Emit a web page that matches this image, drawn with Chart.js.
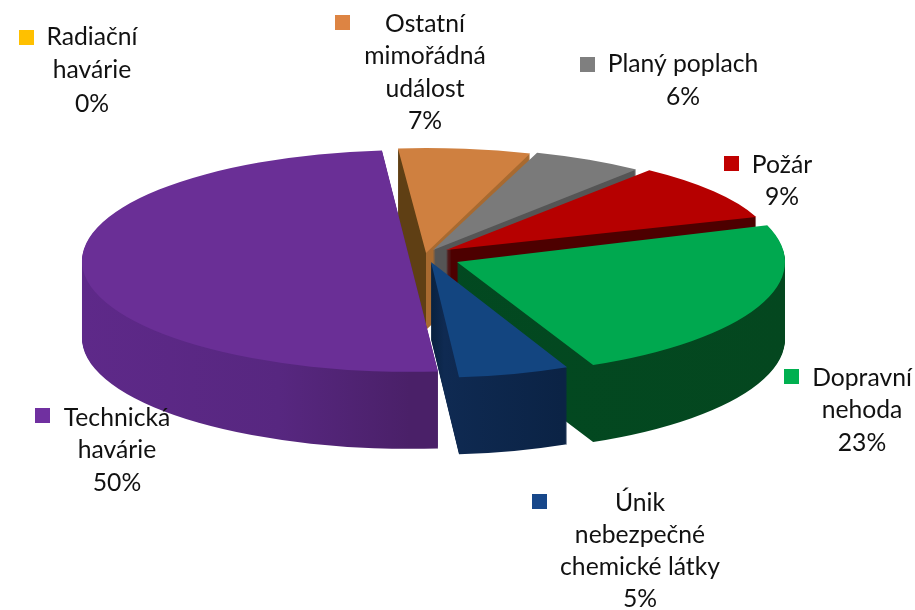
<!DOCTYPE html>
<html><head><meta charset="utf-8">
<style>html,body{margin:0;padding:0;background:#fff}canvas{display:block}</style>
<script src="https://cdn.jsdelivr.net/npm/chart.js@4/dist/chart.umd.js"></script>
</head><body><canvas id="c" width="915" height="610"></canvas>
<script>
const categories = [
  ['Radiační','havárie'],
  ['Ostatní','mimořádná','událost'],
  ['Planý poplach'],
  ['Požár'],
  ['Dopravní','nehoda'],
  ['Únik','nebezpečné','chemické látky'],
  ['Technická','havárie']
];
const values = [0, 6.5, 5.5, 9.1, 23.45, 5.45, 50];
const topColors = ['#ffc000','#cf8040','#7a7a7a','#b60000','#00a84f','#134580','#6a2f96'];
const legendColors = ['#ffc000','#dd8443','#7f7f7f','#c00000','#00b050','#17478a','#7030a0'];

// Wall shading: gradient stops across the pie's width, seen from the left to the right.
const wallStops = [
  [[0,'#7f6000']],
  [[0,'#5f3f14'],[0.5,'#5f3f14'],[0.5,'#a86a30'],[1,'#a86a30']],
  [[0,'#555555']],
  [[0,'#4d0000']],
  [[0,'#004a22'],[1,'#04471f']],
  [[0,'#08213f'],[0.5,'#08213f'],[0.52,'#0f2a52'],[0.7,'#0b2345'],[1,'#0b2345']],
  [[0,'#5e2989'],[0.3,'#572780'],[0.5,'#4a2068'],[1,'#4a2068']]
];
// 3D look: the apex of each exploded slice, its vertical squash, and the paint order back to front.
const apexShift = [[0,0],[426,253],[433,250],[446,250],[457,262],[431,262],[410,261]];
const squash = [0.33,0.32,0.313,0.31,0.345,0.353,0.338];
const paintOrder = [1,2,3,4,6,5];
const RADIUS = 328, DEPTH = 77;

// Label block: centre x, first line centre y, line height, legend key x, key y
const labelBoxes = [
  [92,37,33.5,19,30],
  [425,24,32.5,335,15],
  [683,64,33,580,57],
  [782,165,32,724,156],
  [862,378,32.5,784,369],
  [117,418,32.5,35,408],
  [640,503,32,532,494]
];
const labelOrderIdx = [0,1,2,3,4,6,5];

const pie3d = {
  id:'pie3d',
  beforeDatasetsDraw(chart){
    const ctx = chart.ctx, arcs = chart.getDatasetMeta(0).data;
    paintOrder.forEach(i=>{
      const arc = arcs[i], s = RADIUS/arc.outerRadius, k = squash[i]*s;
      const place = (yOff)=>{
        ctx.translate(apexShift[i][0], apexShift[i][1]+yOff);
        ctx.scale(s,k);
        ctx.translate(-arc.x,-arc.y);
      };
      // walls
      for(let d=DEPTH;d>=1;d--){
        ctx.save(); place(d);
        const g = ctx.createLinearGradient(arc.x-arc.outerRadius,0,arc.x+arc.outerRadius,0);
        const st = wallStops[i];
        st.forEach(p=>g.addColorStop(p[0],p[1]));
        if(st.length===1) g.addColorStop(1,st[0][1]);
        const p = Object.create(arc);
        p.options = Object.assign({},arc.options,{backgroundColor:g,borderWidth:0});
        arc.draw.call(p,ctx);
        ctx.restore();
      }
      // top face
      ctx.save(); place(0);
      arc.draw(ctx);
      ctx.restore();
    });
    return false;
  },
  afterDraw(chart){
    const ctx = chart.ctx;
    ctx.save();
    ctx.font = '24.7px Lato';
    ctx.textAlign = 'center';
    ctx.textBaseline = 'middle';
    labelBoxes.forEach((b,n)=>{
      const i = labelOrderIdx[n];
      const lines = categories[i].concat([Math.round(values[i])+'%']);
      ctx.fillStyle = legendColors[i];
      ctx.fillRect(b[3],b[4],15,15);
      ctx.fillStyle = '#111';
      lines.forEach((t,j)=>ctx.fillText(t,b[0],b[1]+j*b[2]));
    });
    ctx.restore();
  }
};

new Chart(document.getElementById('c'),{
  type:'pie',
  data:{labels:categories.map(c=>c.join(' ')),datasets:[{data:values,backgroundColor:topColors,borderWidth:0}]},
  options:{
    responsive:false,animation:false,rotation:-4.9,
    layout:{padding:0},
    plugins:{legend:{display:false},tooltip:{enabled:false}}
  },
  plugins:[pie3d]
});
</script></body></html>
